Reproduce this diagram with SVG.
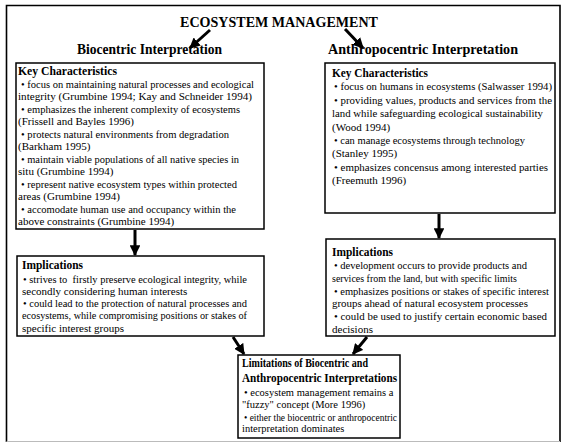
<svg xmlns="http://www.w3.org/2000/svg" width="564" height="443" viewBox="0 0 564 443">
<style>
.t{font-family:"Liberation Serif","Times New Roman",serif;font-size:11px;fill:#000}
.h{font-weight:bold;font-size:12px}
.s{font-size:10.5px}
.sub{font-family:"Liberation Serif","Times New Roman",serif;font-weight:bold;font-size:14px;fill:#000}
.box{fill:#fff;stroke:#000;stroke-width:1.5}
.conn{stroke:#000;stroke-width:3;fill:none;marker-end:url(#ah)}
</style>
<defs>
<marker id="ah" viewBox="0 0 10 10" refX="9" refY="5" markerWidth="3.6" markerHeight="3.6" orient="auto" markerUnits="strokeWidth">
<path d="M0,0 L10,5 L0,10 z" fill="#000"/>
</marker>
</defs>
<rect x="0" y="0" width="564" height="443" fill="#fff"/>
<path d="M6.5,442 V5.5 H560 V442" fill="none" stroke="#000" stroke-width="1.6"/>
<line x1="6.5" y1="441.5" x2="560" y2="441.5" stroke="#bbb" stroke-width="1"/>

<g id="title">
<text class="sub" x="279" y="27" text-anchor="middle" font-size="17" textLength="198" lengthAdjust="spacingAndGlyphs">ECOSYSTEM MANAGEMENT</text>
</g>
<g id="biocentric">
<text class="sub" x="77" y="54" textLength="145" lengthAdjust="spacingAndGlyphs">Biocentric Interpretation</text>
</g>
<g id="anthropocentric">
<text class="sub" x="328" y="54" textLength="190" lengthAdjust="spacingAndGlyphs">Anthropocentric Interpretation</text>
</g>

<g id="bio-key">
<rect class="box" x="16" y="63" width="248" height="166"/>
<text class="t h" x="18" y="75" textLength="99" lengthAdjust="spacingAndGlyphs">Key Characteristics</text>
<text class="t" x="21" y="87.5" textLength="233" lengthAdjust="spacingAndGlyphs">• focus on maintaining natural processes and ecological</text>
<text class="t" x="18" y="100" textLength="234" lengthAdjust="spacingAndGlyphs">integrity (Grumbine 1994; Kay and Schneider 1994)</text>
<text class="t" x="21" y="112.5" textLength="219" lengthAdjust="spacingAndGlyphs">• emphasizes the inherent complexity of ecosystems</text>
<text class="t" x="18" y="125">(Frissell and Bayles 1996)</text>
<text class="t" x="21" y="137.5" textLength="208" lengthAdjust="spacingAndGlyphs">• protects natural environments from degradation</text>
<text class="t" x="18" y="150">(Barkham 1995)</text>
<text class="t" x="21" y="162.5" textLength="218" lengthAdjust="spacingAndGlyphs">• maintain viable populations of all native species in</text>
<text class="t" x="18" y="175">situ (Grumbine 1994)</text>
<text class="t" x="21" y="187.5" textLength="216" lengthAdjust="spacingAndGlyphs">• represent native ecosystem types within protected</text>
<text class="t" x="18" y="200">areas (Grumbine 1994)</text>
<text class="t" x="21" y="212.5" textLength="215" lengthAdjust="spacingAndGlyphs">• accomodate human use and occupancy within the</text>
<text class="t" x="18" y="225">above constraints (Grumbine 1994)</text>
</g>

<g id="anthro-key">
<rect class="box" x="325" y="63" width="230" height="150"/>
<text class="t h" x="332" y="77" textLength="96" lengthAdjust="spacingAndGlyphs">Key Characteristics</text>
<text class="t" x="334" y="90.4" textLength="218" lengthAdjust="spacingAndGlyphs">• focus on humans in ecosystems (Salwasser 1994)</text>
<text class="t" x="334" y="103.8" textLength="218" lengthAdjust="spacingAndGlyphs">• providing values, products and services from the</text>
<text class="t" x="332" y="117.2" textLength="211" lengthAdjust="spacingAndGlyphs">land while safeguarding ecological sustainability</text>
<text class="t" x="332" y="130.6">(Wood 1994)</text>
<text class="t" x="334" y="144" textLength="191" lengthAdjust="spacingAndGlyphs">• can manage ecosystems through technology</text>
<text class="t" x="332" y="157.4">(Stanley 1995)</text>
<text class="t" x="334" y="170.8" textLength="214" lengthAdjust="spacingAndGlyphs">• emphasizes concensus among interested parties</text>
<text class="t" x="332" y="184.2">(Freemuth 1996)</text>
</g>

<g id="bio-impl">
<rect class="box" x="17" y="256" width="247" height="80"/>
<text class="t h" x="22" y="269" textLength="61" lengthAdjust="spacingAndGlyphs">Implications</text>
<text class="t" x="23" y="282.5" textLength="224" lengthAdjust="spacingAndGlyphs" xml:space="preserve">• strives to  firstly preserve ecological integrity, while</text>
<text class="t" x="22" y="294.8">secondly considering human interests</text>
<text class="t" x="23" y="307" textLength="224" lengthAdjust="spacingAndGlyphs">• could lead to the protection of natural processes and</text>
<text class="t" x="22" y="319.3" textLength="225" lengthAdjust="spacingAndGlyphs">ecosystems, while compromising positions or stakes of</text>
<text class="t" x="22" y="331.5">specific interest groups</text>
</g>

<g id="anthro-impl">
<rect class="box" x="326" y="239" width="229" height="97"/>
<text class="t h" x="332" y="256" textLength="61" lengthAdjust="spacingAndGlyphs">Implications</text>
<text class="t" x="334" y="269" textLength="193" lengthAdjust="spacingAndGlyphs">• development occurs to provide products and</text>
<text class="t" x="332" y="281.8" textLength="185" lengthAdjust="spacingAndGlyphs">services from the land, but with specific limits</text>
<text class="t" x="334" y="294.6" textLength="215" lengthAdjust="spacingAndGlyphs">• emphasizes positions or stakes of specific interest</text>
<text class="t" x="332" y="307.4" textLength="196" lengthAdjust="spacingAndGlyphs">groups ahead of natural ecosystem processes</text>
<text class="t" x="334" y="320.2" textLength="213" lengthAdjust="spacingAndGlyphs">• could be used to justify certain economic based</text>
<text class="t" x="332" y="333">decisions</text>
</g>

<g id="limitations">
<rect class="box" x="238" y="355" width="162" height="83"/>
<text class="t h" x="242" y="367" textLength="126" lengthAdjust="spacingAndGlyphs">Limitations of Biocentric and</text>
<text class="t h" x="242" y="382" textLength="155" lengthAdjust="spacingAndGlyphs">Anthropocentric Interpretations</text>
<text class="t s" x="244" y="396">• ecosystem management remains a</text>
<text class="t s" x="242" y="408">"fuzzy" concept (More 1996)</text>
<text class="t s" x="244" y="421" textLength="153" lengthAdjust="spacingAndGlyphs">• either the biocentric or anthropocentric</text>
<text class="t s" x="242" y="432">interpretation dominates</text>
</g>

<g id="connectors">
<line class="conn" x1="210" y1="30" x2="190" y2="48"/>
<line class="conn" x1="345" y1="29" x2="363" y2="48"/>
<line class="conn" x1="135" y1="230" x2="135" y2="255"/>
<line class="conn" x1="439" y1="214" x2="439" y2="238"/>
<line class="conn" x1="233" y1="337" x2="244" y2="354"/>
<line class="conn" x1="367" y1="337" x2="353" y2="354"/>
</g>
</svg>
